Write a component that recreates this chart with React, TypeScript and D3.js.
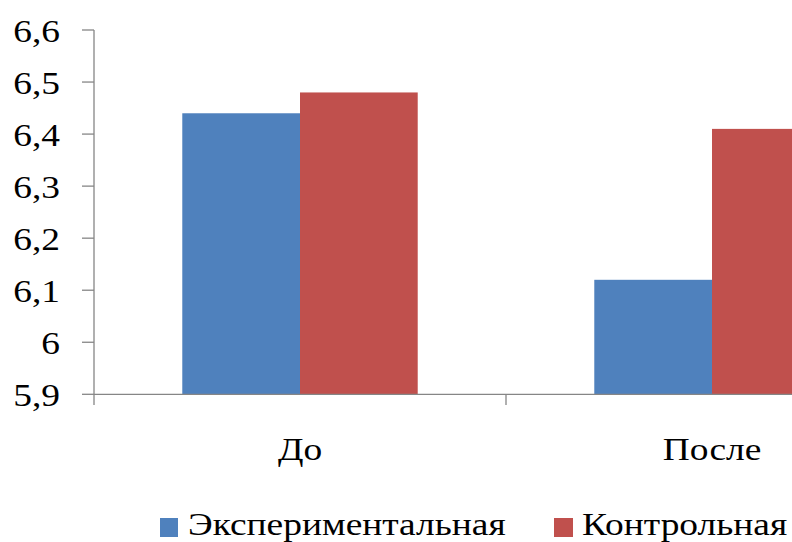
import React from "react";
import * as d3 from "d3";

const categories = ["До", "После"];
const seriesNames = ["Экспериментальная", "Контрольная"];
const experimental = [6.44, 6.12];
const control = [6.48, 6.41];
const yTicks = [5.9, 6.0, 6.1, 6.2, 6.3, 6.4, 6.5, 6.6];
const colors = ["#4F81BD", "#C0504D"];

const W = 792, H = 542;
const SX = 1.17;

function T({ x, y, anchor = "start", children }: any) {
  return (
    <text
      transform={`translate(${x},${y}) scale(${SX},1)`}
      textAnchor={anchor}
      fill="#000"
      fontSize={32}
      style={{ fontFamily: "Liberation Serif" }}
    >
      {children}
    </text>
  );
}

export default function App() {
  const x0 = d3.scaleBand<string>().domain(categories).range([94, 918]).paddingInner(0).paddingOuter(0);
  const x1 = d3.scaleBand<string>().domain(seriesNames).range([0, x0.bandwidth()]).paddingInner(0).paddingOuter(0.75);
  const y = d3.scaleLinear().domain([5.9, 6.6]).range([394.3, 30]);
  const series = [experimental, control];
  const fmt = (v: number) => (Math.abs(v - Math.round(v)) < 1e-9 ? String(Math.round(v)) : v.toFixed(1).replace(".", ","));
  const axisColor = "#868686";
  return (
    <svg width={W} height={H} style={{ position: "fixed", left: 0, top: 0 }}>
      <rect width={W} height={H} fill="#fff" />
      {categories.map((c, ci) =>
        seriesNames.map((s, si) => (
          <rect key={c + s} x={x0(c)! + x1(s)!} y={y(series[si][ci])} width={x1.bandwidth()} height={y(5.9) - y(series[si][ci])} fill={colors[si]} />
        ))
      )}
      <line x1={94} x2={94} y1={y(6.6)} y2={405} stroke={axisColor} strokeWidth={1.3} />
      {yTicks.map((t) => (
        <g key={t}>
          <line x1={82} x2={94} y1={y(t)} y2={y(t)} stroke={axisColor} strokeWidth={1.3} />
          <T x={60} y={y(t) + 12} anchor="end">{fmt(t)}</T>
        </g>
      ))}
      <line x1={94} x2={W} y1={y(5.9)} y2={y(5.9)} stroke={axisColor} strokeWidth={1.3} />
      {[0, 1].map((i) => (
        <line key={i} x1={x0(categories[i])! + x0.bandwidth()} x2={x0(categories[i])! + x0.bandwidth()} y1={y(5.9)} y2={405} stroke={axisColor} strokeWidth={1.3} />
      ))}
      {categories.map((c) => (
        <T key={c} x={x0(c)! + x0.bandwidth() / 2} y={460} anchor="middle">{c}</T>
      ))}
      <rect x={160} y={518} width={18} height={19} fill={colors[0]} />
      <T x={188} y={535}>{seriesNames[0]}</T>
      <rect x={554} y={518} width={19} height={19} fill={colors[1]} />
      <T x={582} y={535}>{seriesNames[1]}</T>
    </svg>
  );
}
